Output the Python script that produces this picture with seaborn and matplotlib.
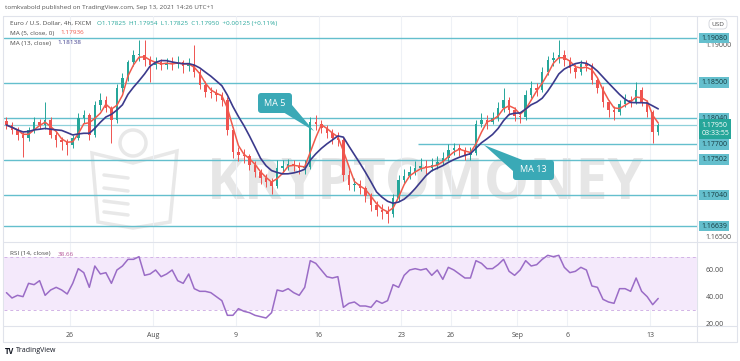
"""
EUR/USD 4h chart with MA(5), MA(13) and RSI(14), TradingView look
"""

# ========== SECTION 1: CONFIGURATION ==========
import numpy as np
import pandas as pd
import matplotlib
matplotlib.use("Agg")
import matplotlib.pyplot as plt
import matplotlib.transforms as mtransforms
from matplotlib.patches import FancyBboxPatch, Polygon, Circle
import seaborn as sns

sns.set_theme(style="white")
plt.rcParams['font.family'] = ['Open Sans', 'DejaVu Sans']

W, H = 740, 361  # output size in pixels

# ========== SECTION 2: DATA ==========
first_day = "2021-07-20"
last_day = "2021-09-13"
bars_per_day = 3
first_open = 1.1800

close = [
    1.1795, 1.1789, 1.1782, 1.1778, 1.1789, 1.1799, 1.1795, 1.1802, 1.1782, 1.1776,
    1.1773, 1.1769, 1.1778, 1.1804, 1.1808, 1.1782, 1.1821, 1.1828, 1.1817, 1.1802,
    1.1843, 1.1856, 1.1877, 1.1886, 1.1886, 1.1879, 1.1873, 1.1877, 1.1873, 1.1876,
    1.1874, 1.1877, 1.1872, 1.1874, 1.1864, 1.1847, 1.1838, 1.1837, 1.1834, 1.1828,
    1.1789, 1.1760, 1.1756, 1.1755, 1.1743, 1.1734, 1.1726, 1.1721, 1.1716, 1.1739,
    1.1742, 1.1744, 1.1742, 1.1739, 1.1741, 1.1799, 1.1796, 1.1791, 1.1785, 1.1778,
    1.1776, 1.1730, 1.1717, 1.1718, 1.1713, 1.1703, 1.1691, 1.1685, 1.1682, 1.1680,
    1.1700, 1.1724, 1.1729, 1.1734, 1.1739, 1.1742, 1.1739, 1.1743, 1.1747, 1.1752,
    1.1763, 1.1765, 1.1763, 1.1756, 1.1759, 1.1796, 1.1802, 1.1799, 1.1804, 1.1817,
    1.1828, 1.1815, 1.1807, 1.1805, 1.1834, 1.1843, 1.1841, 1.1864, 1.1879, 1.1882,
    1.1886, 1.1879, 1.1869, 1.1864, 1.1874, 1.1872, 1.1854, 1.1843, 1.1825, 1.1815,
    1.1812, 1.1822, 1.1828, 1.1825, 1.1841, 1.1825, 1.1812, 1.1786, 1.1795,
]
high = [
    1.1805, 1.1799, 1.1792, 1.1786, 1.1793, 1.1806, 1.1803, 1.1825, 1.1805, 1.1786,
    1.1780, 1.1777, 1.1782, 1.1810, 1.1815, 1.1810, 1.1826, 1.1837, 1.1833, 1.1820,
    1.1848, 1.1862, 1.1880, 1.1893, 1.1905, 1.1905, 1.1885, 1.1883, 1.1881, 1.1882,
    1.1883, 1.1885, 1.1880, 1.1882, 1.1899, 1.1868, 1.1852, 1.1845, 1.1842, 1.1838,
    1.1832, 1.1792, 1.1766, 1.1764, 1.1758, 1.1748, 1.1738, 1.1731, 1.1726, 1.1750,
    1.1750, 1.1751, 1.1750, 1.1747, 1.1750, 1.1806, 1.1808, 1.1802, 1.1795, 1.1790,
    1.1786, 1.1780, 1.1736, 1.1726, 1.1724, 1.1716, 1.1707, 1.1697, 1.1692, 1.1690,
    1.1706, 1.1730, 1.1738, 1.1742, 1.1748, 1.1752, 1.1750, 1.1752, 1.1755, 1.1760,
    1.1770, 1.1772, 1.1770, 1.1767, 1.1766, 1.1802, 1.1810, 1.1808, 1.1812, 1.1825,
    1.1843, 1.1832, 1.1818, 1.1812, 1.1840, 1.1852, 1.1850, 1.1870, 1.1885, 1.1890,
    1.1905, 1.1893, 1.1883, 1.1874, 1.1880, 1.1880, 1.1876, 1.1858, 1.1846, 1.1828,
    1.1820, 1.1828, 1.1835, 1.1833, 1.1851, 1.1844, 1.1828, 1.1815, 1.1798,
]
low = [
    1.1790, 1.1784, 1.1776, 1.1753, 1.1774, 1.1785, 1.1790, 1.1790, 1.1778, 1.1766,
    1.1762, 1.1756, 1.1765, 1.1775, 1.1798, 1.1775, 1.1780, 1.1815, 1.1812, 1.1772,
    1.1798, 1.1838, 1.1852, 1.1872, 1.1878, 1.1872, 1.1851, 1.1868, 1.1866, 1.1868,
    1.1866, 1.1869, 1.1862, 1.1865, 1.1858, 1.1842, 1.1832, 1.1830, 1.1826, 1.1820,
    1.1782, 1.1752, 1.1748, 1.1746, 1.1737, 1.1727, 1.1719, 1.1714, 1.1706, 1.1713,
    1.1733, 1.1736, 1.1735, 1.1732, 1.1731, 1.1738, 1.1789, 1.1785, 1.1778, 1.1771,
    1.1768, 1.1722, 1.1710, 1.1709, 1.1705, 1.1695, 1.1684, 1.1677, 1.1673, 1.1668,
    1.1676, 1.1697, 1.1720, 1.1725, 1.1730, 1.1735, 1.1731, 1.1735, 1.1738, 1.1743,
    1.1748, 1.1756, 1.1755, 1.1749, 1.1750, 1.1756, 1.1792, 1.1790, 1.1796, 1.1800,
    1.1812, 1.1808, 1.1800, 1.1797, 1.1802, 1.1830, 1.1833, 1.1838, 1.1860, 1.1872,
    1.1876, 1.1872, 1.1862, 1.1856, 1.1860, 1.1865, 1.1848, 1.1836, 1.1818, 1.1806,
    1.1802, 1.1808, 1.1818, 1.1818, 1.1822, 1.1820, 1.1805, 1.1772, 1.1782,
]
rsi = [
    43, 39, 41, 40, 50, 49, 52, 41, 45, 47,
    45, 42, 50, 61, 58, 47, 63, 57, 58, 50,
    60, 63, 68, 68, 70, 56, 57, 60, 55, 57,
    60, 52, 50, 57, 46, 44, 44, 43, 40, 37,
    26, 26, 31, 29, 28, 26, 25, 24, 28, 45,
    44, 46, 43, 41, 47, 67, 65, 60, 55, 54,
    55, 32, 35, 36, 33, 33, 32, 37, 35, 37,
    49, 47, 56, 60, 61, 60, 61, 56, 60, 53,
    62, 60, 57, 54, 54, 67, 65, 61, 61, 64,
    68, 59, 56, 60, 67, 63, 64, 68, 71, 70,
    71, 62, 58, 59, 62, 60, 48, 47, 38, 36,
    35, 46, 46, 44, 54, 44, 40, 34, 38.66,
]

levels = [1.19080, 1.18500, 1.18040, 1.17700, 1.17502, 1.17040, 1.16639]
level_partial = 1.17700
level_partial_start = "2021-08-24"
last_price = 1.17950
countdown = "03:33:55"

tick_labels = ["26", "Aug", "9", "16", "23", "26", "Sep", "6", "13"]
tick_dates = ["2021-07-26", "2021-08-02", "2021-08-09", "2021-08-16", "2021-08-23",
              "2021-08-26", "2021-09-01", "2021-09-06", "2021-09-13"]

# colours
UP = "#26a69a"
DOWN = "#ef5350"
MA5_C = "#f05a4c"
MA13_C = "#3b3a8c"
LEVEL_C = "#64bfcd"
RSI_C = "#9a6cc6"
TXT = "#4a4a4a"
GRID = "#eef1f6"

# ========== SECTION 3: PROCESSING ==========
days = pd.bdate_range(first_day, last_day)
day_index = {d.strftime("%Y-%m-%d"): i for i, d in enumerate(days)}
bar_x = [i + (k + 0.5) / bars_per_day for i in range(len(days)) for k in range(bars_per_day)]

df = pd.DataFrame({"x": bar_x[:len(close)], "close": close, "high": high, "low": low, "rsi": rsi})
df["open"] = [first_open] + close[:-1]
df["ma5"] = df["close"].rolling(3, min_periods=1).mean()
df["ma13"] = df["close"].rolling(7, min_periods=1).mean()
df["up"] = df["close"] >= df["open"]

# pixel geometry of the screenshot
PX_DAY, X0 = 16.57, 3.7          # x pixel = X0 + PX_DAY * day
PX_PRICE, P_REF, Y_REF = 7702, 1.19080, 38
RSI_PX, RSI_REF, RSI_Y = 1.333, 60, 270


def fx(px):
    return px / W


def fy(py):
    return 1 - py / H


# ========== SECTION 4: FIGURE ==========
fig = plt.figure(figsize=(W / 100, H / 100), dpi=100)
fig.patch.set_facecolor("white")

bg = fig.add_axes([0, 0, 1, 1], zorder=0)
bg.set_xlim(0, W)
bg.set_ylim(H, 0)
bg.axis("off")

ax = fig.add_axes([fx(4), fy(242), (697 - 4) / W, (242 - 16) / H], zorder=2)
ax_r = fig.add_axes([fx(4), fy(326), (697 - 4) / W, (326 - 243) / H], zorder=2, sharex=ax)
ax.set_facecolor("none")
ax_r.set_facecolor("none")

ov = fig.add_axes([0, 0, 1, 1], zorder=5)
ov.set_xlim(0, W)
ov.set_ylim(H, 0)
ov.axis("off")
ov.patch.set_alpha(0)

# ------ frame lines ------
for y in (16, 242, 326, 342):
    bg.plot([3, 737], [y, y], color="#e0e3eb", lw=0.8)
bg.plot([697, 697], [16, 342], color="#e0e3eb", lw=0.8)
bg.plot([3, 3], [16, 342], color="#e0e3eb", lw=0.8)
bg.plot([737, 737], [16, 342], color="#e0e3eb", lw=0.8)

# ------ watermark ------
bg.text(425, 184, "KRYPTOMONEY", fontsize=41, fontweight="bold", color="#e6e6e6",
        ha="center", va="center")
bg.add_patch(Circle((133, 143), 13, fill=False, ec="#e8e8e8", lw=2.5))
bg.add_patch(Polygon([(92, 153), (133, 163), (177, 151), (170, 222), (133, 228), (98, 222)],
                     closed=True, fill=False, ec="#e8e8e8", lw=2.5))
for yy in (175, 188, 201, 212):
    bg.plot([104, 128], [yy, yy + 3], color="#e8e8e8", lw=2.5)

# ------ main pane ------
ax.set_xlim((4 - X0) / PX_DAY, (697 - X0) / PX_DAY)
ax.set_ylim(P_REF - (242 - Y_REF) / PX_PRICE, P_REF + (Y_REF - 16) / PX_PRICE)

tick_pos = [day_index[d] for d in tick_dates]
for t in tick_pos:
    ax.axvline(t, color=GRID, lw=0.8, zorder=0)
    ax_r.axvline(t, color=GRID, lw=0.8, zorder=0)

for lvl in levels:
    if lvl == level_partial:
        ax.hlines(lvl, day_index[level_partial_start], ax.get_xlim()[1], color=LEVEL_C, lw=1.0, zorder=1)
    else:
        ax.axhline(lvl, color=LEVEL_C, lw=1.0, zorder=1)
ax.axhline(last_price, color="#8fd0da", lw=0.9, zorder=1)

colors = np.where(df["up"], UP, DOWN)
body_lo = df[["open", "close"]].min(axis=1)
body_h = (df["close"] - df["open"]).abs().clip(lower=0.00006)
ax.vlines(df["x"], df["low"], df["high"], colors=colors, lw=0.7, zorder=3)
ax.bar(df["x"], body_h, bottom=body_lo, width=0.15, color=colors, linewidth=0, zorder=3)

sns.lineplot(x=df["x"], y=df["ma5"], ax=ax, color=MA5_C, lw=1.1, zorder=4)
sns.lineplot(x=df["x"], y=df["ma13"], ax=ax, color=MA13_C, lw=1.2, zorder=4)

ax.set_xlabel("")
ax.set_ylabel("")
ax.yaxis.tick_right()
ax.set_yticks([1.16500, 1.19000])
ax.set_yticklabels(["1.16500", "1.19000"])
ax.tick_params(axis="y", length=0, pad=6, labelsize=5, labelcolor=TXT)
ax.tick_params(axis="x", length=0, labelbottom=False)
for s in ax.spines.values():
    s.set_visible(False)

# price scale boxes
trans = mtransforms.blended_transform_factory(ax.transAxes, ax.transData)
for lvl in levels:
    ax.text(1.006, lvl, f"{lvl:.5f}", transform=trans, fontsize=5, color="#173a40",
            ha="left", va="center", clip_on=False, zorder=6,
            bbox=dict(boxstyle="square,pad=0.25", fc=LEVEL_C, ec="none"))
# current price: first line sits on the price, countdown below it
cur_trans = mtransforms.offset_copy(trans, fig=fig, y=3.5, units="dots")
ax.text(1.006, last_price, f"{last_price:.5f}\n{countdown}", transform=cur_trans, fontsize=5,
        color="white", ha="left", va="top", clip_on=False, zorder=7, linespacing=1.25,
        bbox=dict(boxstyle="square,pad=0.3", fc=UP, ec="none"))

# ------ RSI pane ------
ax_r.set_ylim(RSI_REF - (326 - RSI_Y) / RSI_PX, RSI_REF + (RSI_Y - 243) / RSI_PX)
ax_r.axhspan(30, 70, color="#f4e9fb", zorder=0, lw=0)
ax_r.axhline(70, color="#d2b3e6", lw=0.7, ls=(0, (3, 3)))
ax_r.axhline(30, color="#d2b3e6", lw=0.7, ls=(0, (3, 3)))
sns.lineplot(x=df["x"], y=df["rsi"], ax=ax_r, color=RSI_C, lw=1.1, zorder=4)
ax_r.set_xlabel("")
ax_r.set_ylabel("")
ax_r.yaxis.tick_right()
ax_r.set_yticks([20, 40, 60])
ax_r.set_yticklabels(["20.00", "40.00", "60.00"])
ax_r.tick_params(axis="y", length=0, pad=6, labelsize=5, labelcolor=TXT)
ax_r.set_xticks(tick_pos)
ax_r.set_xticklabels(tick_labels)
ax_r.tick_params(axis="x", length=0, pad=4, labelsize=5, labelcolor=TXT)
for s in ax_r.spines.values():
    s.set_visible(False)

# ------ header texts ------
ov.text(5, 8, "tomkvabold published on TradingView.com, Sep 13, 2021 14:26 UTC+1",
        fontsize=4.6, color="#555555", va="center")
ov.text(10, 23, "Euro / U.S. Dollar, 4h, FXCM", fontsize=4.6, color=TXT, va="center")
ov.text(97, 23, "O1.17825  H1.17954  L1.17825  C1.17950  +0.00125 (+0.11%)",
        fontsize=4.6, color=UP, va="center")
ov.text(10, 33, "MA (5, close, 0)", fontsize=4.6, color=TXT, va="center")
ov.text(60, 33, "1.17936", fontsize=4.6, color=MA5_C, va="center")
ov.text(10, 43, "MA (13, close)", fontsize=4.6, color=TXT, va="center")
ov.text(57, 43, "1.18138", fontsize=4.6, color=MA13_C, va="center")
ov.text(10, 254, "RSI (14, close)", fontsize=4.6, color=TXT, va="center")
ov.text(58, 254, "38.66", fontsize=4.6, color="#b5579a", va="center")

ov.add_patch(FancyBboxPatch((709, 19), 18, 10, boxstyle="round,pad=0,rounding_size=4",
                            fc="white", ec="#d0d3da", lw=0.6))
ov.text(718, 24, "USD", fontsize=4.6, color=TXT, ha="center", va="center")

# ------ callouts ------
CALL_C = "#3aa9b6"
ov.add_patch(Polygon([(283, 112), (292, 105), (314, 131)], closed=True, fc=CALL_C, ec="none"))
ov.add_patch(FancyBboxPatch((258, 93), 34, 20, boxstyle="round,pad=0,rounding_size=3",
                            fc=CALL_C, ec="none"))
ov.text(275, 103, "MA 5", fontsize=6.5, color="white", ha="center", va="center")

ov.add_patch(Polygon([(513, 171), (525, 161), (484, 145)], closed=True, fc=CALL_C, ec="none"))
ov.add_patch(FancyBboxPatch((513, 160), 41, 20, boxstyle="round,pad=0,rounding_size=3",
                            fc=CALL_C, ec="none"))
ov.text(533.5, 170, "MA 13", fontsize=6.5, color="white", ha="center", va="center")

# ------ footer ------
ov.text(5, 351, "TV", fontsize=5.5, fontweight="bold", color="#131722", va="center")
ov.text(16, 351, "TradingView", fontsize=5, color="#131722", va="center")

fig.savefig("out.png", dpi=100, facecolor="white")
